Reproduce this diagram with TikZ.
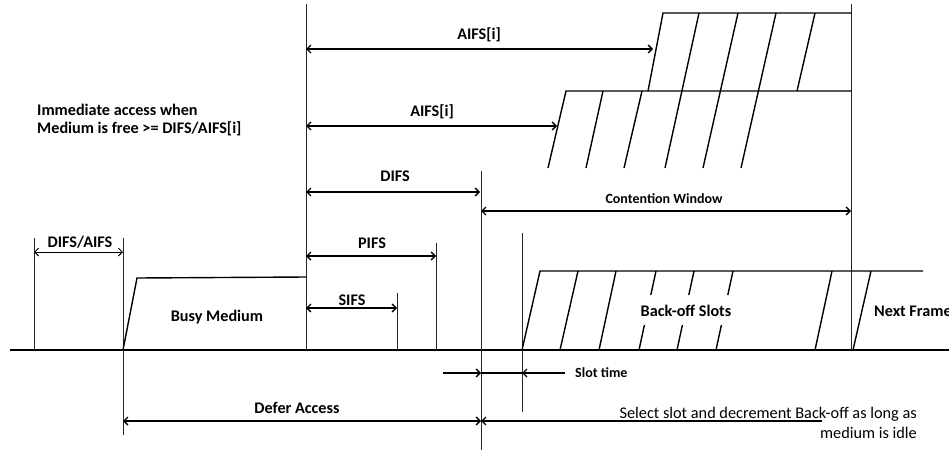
\documentclass[tikz,border=0pt]{standalone}
\usepackage{fontspec}
\setmainfont{Carlito}
\usetikzlibrary{arrows.meta}
\begin{document}
\begin{tikzpicture}[x=1pt,y=-1pt,
  lbl/.style={font=\bfseries\fontsize{16.2}{17.5}\selectfont, inner sep=0pt},
  slbl/.style={font=\bfseries\fontsize{14}{16}\selectfont, inner sep=0pt},
  rlbl/.style={font=\fontsize{16.3}{19.5}\selectfont, inner sep=0pt},
  vline/.style={line width=0.9pt, black!85},
  edge/.style={line width=1.4pt},
  baseln/.style={line width=1.8pt},
  dim/.style={line width=1.3pt, {Straight Barb[length=4pt,width=8pt]}-{Straight Barb[length=4pt,width=8pt]}},
  ldim/.style={line width=1.3pt, {Straight Barb[length=4pt,width=8pt]}-},
  rdim/.style={line width=1.3pt, -{Straight Barb[length=4pt,width=8pt]}},
]
\useasboundingbox (0,0) rectangle (949,450);

% key coordinates
\coordinate (b0) at (10,350);   \coordinate (b1) at (949,350);
\coordinate (v34t) at (34,238);  \coordinate (v34b) at (34,350);
\coordinate (v123t) at (123,238); \coordinate (v123b) at (123,435);
\coordinate (v306t) at (306,4);  \coordinate (v306b) at (306,350);
\coordinate (v397t) at (397,293); \coordinate (v397b) at (397,350);
\coordinate (v436t) at (436,243); \coordinate (v436b) at (436,350);
\coordinate (v481t) at (481,171); \coordinate (v481b) at (481,450);
\coordinate (v522t) at (522,233); \coordinate (v522b) at (522,412);
\coordinate (v851t) at (851,4);  \coordinate (v851b) at (851,350);

% baseline
\draw[baseln] (b0) -- (b1);

% vertical lines
\draw[vline] (v34t) -- (v34b);
\draw[vline] (v123t) -- (v123b);
\draw[vline] (v306t) -- (v306b);
\draw[vline] (v397t) -- (v397b);
\draw[vline] (v436t) -- (v436b);
\draw[vline] (v481t) -- (v481b);
\draw[vline] (v522t) -- (v522b);
\draw[vline] (v851t) -- (v851b);

% busy medium
\draw[edge] (123,350) -- (137,278) -- (306,277);
\node[lbl] (busy) at (217,317) {Busy Medium};

% upper AIFS block
\draw[edge] (648,91) -- (663,13) -- (851,13);
\draw[edge] (797,91) -- (815,13);
% lower AIFS block
\draw[edge] (548,168) -- (566,91) -- (851,91);
\draw[edge] (586,168) -- (603,91);
\draw[edge] (624,168) -- (642,91);
\draw[edge] (665,168) -- (699,13);
\draw[edge] (703,168) -- (738,13);
\draw[edge] (741,168) -- (776,13);

% back-off block
\draw[edge] (522,350) -- (540,271) -- (923,271);
\draw[edge] (560,350) -- (578,271);
\draw[edge] (599,350) -- (616,271);
\draw[edge] (639,350) -- (644.4,325);  \draw[edge] (650.8,295) -- (656,271);
\draw[edge] (677,350) -- (682.4,325);  \draw[edge] (688.8,295) -- (694,271);
\draw[edge] (716,350) -- (721.4,325);  \draw[edge] (727.8,295) -- (733,271);
\draw[edge] (815,350) -- (832,271);
\draw[edge] (853,350) -- (871,271);
\node[lbl] (bos) at (686,311) {Back-off Slots};
\node[lbl, anchor=west] (nf) at (874,311) {Next Frame};

% dimension arrows
\coordinate (a1l) at (306,49);  \coordinate (a1r) at (653,49);
\coordinate (a2l) at (306,126); \coordinate (a2r) at (557,126);
\coordinate (dl) at (306,192);  \coordinate (dr) at (480,192);
\coordinate (cl) at (481,211);  \coordinate (cr) at (851,211);
\coordinate (pl) at (306,256);  \coordinate (pr) at (436,256);
\coordinate (sl) at (306,308);  \coordinate (sr) at (397,308);
\coordinate (xl) at (34,252);   \coordinate (xr) at (123,252);
\coordinate (fl) at (123,421);  \coordinate (fr) at (481,421);
\coordinate (gl) at (481,421);  \coordinate (gr) at (822,421);
\coordinate (t0) at (443,373);  \coordinate (t1) at (481,373);
\coordinate (t2) at (522,373);  \coordinate (t3) at (565,373);

\draw[dim] (a1l) -- (a1r);
\draw[dim] (a2l) -- (a2r);
\draw[dim] (dl) -- (dr);
\draw[dim] (cl) -- (cr);
\draw[dim] (pl) -- (pr);
\draw[dim] (sl) -- (sr);
\draw[dim, line width=0.9pt] (xl) -- (xr);
\draw[dim] (fl) -- (fr);
\draw[ldim] (gl) -- (gr);
\draw[rdim] (t0) -- (t1);
\draw[line width=1.3pt] (t1) -- (t2);
\draw[rdim] (t3) -- (t2);

% labels
\node[lbl] (l1) at (479,35) {AIFS[i]};
\node[lbl] (l2) at (432,112) {AIFS[i]};
\node[lbl] (l3) at (395,176) {DIFS};
\node[slbl] (l4) at (664,199) {Contention Window};
\node[lbl] (l5) at (372,243) {PIFS};
\node[lbl] (l6) at (352,300) {SIFS};
\node[lbl] (l7) at (80,242) {DIFS/AIFS};
\node[lbl] (l8) at (297,408) {Defer Access};
\node[slbl, anchor=west] (l9) at (575,373) {Slot time};
\node[lbl, anchor=west, align=left] (imm) at (37,120) {Immediate access when\\Medium is free >= DIFS/AIFS[i]};
\node[rlbl, anchor=east, align=right] (sel) at (917,423) {Select slot and decrement Back-off as long as\\medium is idle};
\end{tikzpicture}
\end{document}
